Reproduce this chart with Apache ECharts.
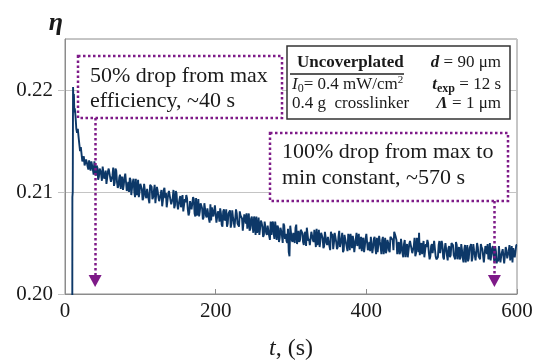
<!DOCTYPE html>
<html>
<head>
<meta charset="utf-8">
<script src="https://cdn.jsdelivr.net/npm/echarts@6/dist/echarts.min.js"></script>
<style>
  html, body { margin: 0; padding: 0; background: #fff; }
  #chart { width: 534px; height: 360px; }
</style>
</head>
<body>
<div id="chart"></div>
<script>
// Diffraction efficiency η versus time t (s)
const xTicks = [0, 200, 400, 600];
const yTicks = [0.20, 0.21, 0.22];

// onset of recording: rise and peak (time, efficiency)
const headTime = [9.7, 9.8, 10.3, 10.7, 11.2, 11.8, 12.4, 13];
const headEta = [0.1990, 0.2095, 0.2100, 0.2203, 0.2190, 0.2196, 0.2178, 0.2182];

// decay readings at even seconds, t = 14 … 600 s
const evenStart = 14;
const evenEta = [
  0.2174, 0.2158, 0.2154, 0.2140, 0.2143, 0.2131, 0.2126, 0.2132, 0.2125, 0.2131,
  0.2121, 0.2130, 0.2117, 0.2124, 0.2126, 0.2112, 0.2123, 0.2117, 0.2125, 0.2113,
  0.2121, 0.2108, 0.2123, 0.2114, 0.2109, 0.2124, 0.2109, 0.2121, 0.2104, 0.2114,
  0.2103, 0.2115, 0.2107, 0.2118, 0.2101, 0.2110, 0.2114, 0.2097, 0.2110, 0.2100,
  0.2113, 0.2099, 0.2095, 0.2108, 0.2103, 0.2094, 0.2109, 0.2094, 0.2103, 0.2089,
  0.2106, 0.2093, 0.2101, 0.2089, 0.2105, 0.2095, 0.2090, 0.2102, 0.2092, 0.2104,
  0.2099, 0.2085, 0.2101, 0.2092, 0.2087, 0.2102, 0.2087, 0.2099, 0.2083, 0.2093,
  0.2085, 0.2097, 0.2081, 0.2090, 0.2094, 0.2077, 0.2091, 0.2083, 0.2095, 0.2079,
  0.2094, 0.2080, 0.2076, 0.2089, 0.2084, 0.2075, 0.2090, 0.2075, 0.2084, 0.2070,
  0.2072, 0.2084, 0.2076, 0.2087, 0.2071, 0.2079, 0.2084, 0.2068, 0.2081, 0.2072,
  0.2083, 0.2069, 0.2078, 0.2065, 0.2082, 0.2071, 0.2066, 0.2079, 0.2068, 0.2081,
  0.2076, 0.2062, 0.2078, 0.2069, 0.2064, 0.2079, 0.2064, 0.2076, 0.2060, 0.2071,
  0.2076, 0.2063, 0.2058, 0.2072, 0.2066, 0.2058, 0.2072, 0.2058, 0.2067, 0.2053,
  0.2058, 0.2071, 0.2054, 0.2064, 0.2067, 0.2051, 0.2065, 0.2057, 0.2069, 0.2054,
  0.2052, 0.2064, 0.2037, 0.2068, 0.2051, 0.2060, 0.2065, 0.2049, 0.2062, 0.2053,
  0.2064, 0.2051, 0.2059, 0.2047, 0.2064, 0.2054, 0.2048, 0.2061, 0.2051, 0.2064,
  0.2064, 0.2051, 0.2046, 0.2060, 0.2055, 0.2047, 0.2062, 0.2048, 0.2056, 0.2043,
  0.2057, 0.2044, 0.2060, 0.2051, 0.2046, 0.2062, 0.2047, 0.2060, 0.2043, 0.2054,
  0.2046, 0.2059, 0.2043, 0.2053, 0.2057, 0.2041, 0.2054, 0.2047, 0.2059, 0.2044,
  0.2042, 0.2055, 0.2047, 0.2059, 0.2043, 0.2051, 0.2056, 0.2040, 0.2054, 0.2045,
  0.2055, 0.2042, 0.2051, 0.2039, 0.2056, 0.2046, 0.2040, 0.2053, 0.2043, 0.2056,
  0.2056, 0.2043, 0.2062, 0.2053, 0.2048, 0.2039, 0.2054, 0.2040, 0.2049, 0.2036,
  0.2049, 0.2036, 0.2052, 0.2044, 0.2039, 0.2055, 0.2040, 0.2052, 0.2060, 0.2047,
  0.2039, 0.2052, 0.2036, 0.2046, 0.2050, 0.2034, 0.2047, 0.2040, 0.2052, 0.2037,
  0.2035, 0.2048, 0.2040, 0.2052, 0.2036, 0.2044, 0.2049, 0.2033, 0.2047, 0.2038,
  0.2051, 0.2038, 0.2034, 0.2048, 0.2043, 0.2034, 0.2049, 0.2035, 0.2044, 0.2031,
  0.2048, 0.2035, 0.2044, 0.2032, 0.2049, 0.2038, 0.2033, 0.2046, 0.2036, 0.2049,
  0.2044, 0.2031, 0.2047, 0.2039, 0.2034, 0.2050, 0.2034, 0.2047, 0.2031, 0.2042,
  0.2034, 0.2047, 0.2031, 0.2041, 0.2045, 0.2029, 0.2043, 0.2036, 0.2048, 0.2033,
  0.2031, 0.2044, 0.2036, 0.2048
];

// decay readings at odd seconds, t = 15 … 599 s
const oddStart = 15;
const oddEta = [
  0.2162, 0.2162, 0.2147, 0.2144, 0.2130, 0.2135, 0.2127, 0.2129, 0.2122, 0.2130,
  0.2130, 0.2122, 0.2130, 0.2116, 0.2124, 0.2115, 0.2121, 0.2111, 0.2124, 0.2116,
  0.2108, 0.2120, 0.2124, 0.2110, 0.2116, 0.2106, 0.2123, 0.2110, 0.2106, 0.2117,
  0.2113, 0.2102, 0.2114, 0.2118, 0.2104, 0.2100, 0.2112, 0.2104, 0.2113, 0.2095,
  0.2097, 0.2112, 0.2100, 0.2107, 0.2092, 0.2108, 0.2096, 0.2103, 0.2093, 0.2107,
  0.2105, 0.2095, 0.2107, 0.2089, 0.2101, 0.2091, 0.2098, 0.2086, 0.2102, 0.2094,
  0.2085, 0.2098, 0.2101, 0.2088, 0.2094, 0.2084, 0.2101, 0.2088, 0.2084, 0.2096,
  0.2092, 0.2081, 0.2093, 0.2097, 0.2083, 0.2080, 0.2092, 0.2084, 0.2093, 0.2076,
  0.2077, 0.2093, 0.2081, 0.2088, 0.2073, 0.2089, 0.2077, 0.2084, 0.2074, 0.2088,
  0.2085, 0.2076, 0.2087, 0.2070, 0.2081, 0.2071, 0.2079, 0.2066, 0.2083, 0.2074,
  0.2066, 0.2079, 0.2082, 0.2069, 0.2075, 0.2065, 0.2083, 0.2069, 0.2066, 0.2077,
  0.2074, 0.2063, 0.2075, 0.2079, 0.2065, 0.2062, 0.2074, 0.2066, 0.2076, 0.2058,
  0.2060, 0.2075, 0.2064, 0.2070, 0.2056, 0.2071, 0.2060, 0.2067, 0.2057, 0.2071,
  0.2069, 0.2059, 0.2071, 0.2053, 0.2065, 0.2055, 0.2062, 0.2050, 0.2067, 0.2059,
  0.2050, 0.2041, 0.2067, 0.2053, 0.2060, 0.2050, 0.2068, 0.2054, 0.2051, 0.2063,
  0.2060, 0.2048, 0.2061, 0.2065, 0.2052, 0.2048, 0.2061, 0.2053, 0.2063, 0.2046,
  0.2048, 0.2063, 0.2052, 0.2059, 0.2045, 0.2061, 0.2050, 0.2056, 0.2047, 0.2061,
  0.2059, 0.2050, 0.2061, 0.2044, 0.2056, 0.2046, 0.2054, 0.2041, 0.2058, 0.2050,
  0.2042, 0.2055, 0.2059, 0.2045, 0.2052, 0.2042, 0.2060, 0.2047, 0.2044, 0.2056,
  0.2053, 0.2041, 0.2054, 0.2058, 0.2045, 0.2042, 0.2055, 0.2046, 0.2056, 0.2039,
  0.2041, 0.2057, 0.2046, 0.2053, 0.2039, 0.2055, 0.2043, 0.2050, 0.2041, 0.2055,
  0.2053, 0.2061, 0.2056, 0.2039, 0.2051, 0.2041, 0.2048, 0.2036, 0.2053, 0.2045,
  0.2036, 0.2049, 0.2053, 0.2040, 0.2047, 0.2037, 0.2055, 0.2041, 0.2038, 0.2050,
  0.2047, 0.2036, 0.2049, 0.2053, 0.2040, 0.2037, 0.2049, 0.2041, 0.2051, 0.2034,
  0.2036, 0.2052, 0.2041, 0.2048, 0.2034, 0.2050, 0.2038, 0.2045, 0.2036, 0.2050,
  0.2048, 0.2039, 0.2051, 0.2034, 0.2046, 0.2036, 0.2043, 0.2031, 0.2048, 0.2040,
  0.2032, 0.2045, 0.2049, 0.2036, 0.2043, 0.2033, 0.2050, 0.2037, 0.2034, 0.2046,
  0.2043, 0.2032, 0.2045, 0.2049, 0.2036, 0.2033, 0.2045, 0.2037, 0.2047, 0.2030,
  0.2032, 0.2048, 0.2037, 0.2044, 0.2030, 0.2046, 0.2035, 0.2042, 0.2033, 0.2047,
  0.2045, 0.2036, 0.2048
];
const sampleStep = 2;

// annotated times (s)
const dropHalfTime = 40;
const dropFullTime = 570;

const serif = '"Liberation Serif", "DejaVu Serif", serif';
const purple = '#7e1a88';
const navy = '#0d3868';
const ink = '#1a1a1a';

// interleave even- and odd-second readings into one time-ordered trace
const trace = headTime.map((t, i) => [t, headEta[i]]);
evenEta.forEach((v, i) => {
  trace.push([evenStart + i * sampleStep, v]);
  if (i < oddEta.length) trace.push([oddStart + i * sampleStep, oddEta[i]]);
});

const chart = echarts.init(document.getElementById('chart'), null, { renderer: 'canvas' });

chart.setOption({
  animation: false,
  backgroundColor: '#fff',
  grid: {
    left: 65, right: 17, top: 39, bottom: 66,
    outerBoundsMode: 'none',
    containLabel: false,
    show: true, borderColor: '#8c8c8c', borderWidth: 1
  },
  xAxis: {
    type: 'value',
    min: xTicks[0], max: xTicks[xTicks.length - 1], interval: 200,
    name: '{i|t}, (s)',
    nameLocation: 'middle',
    nameGap: 43,
    nameTextStyle: {
      fontFamily: serif, fontSize: 24, color: ink,
      rich: { i: { fontFamily: serif, fontSize: 24, fontStyle: 'italic', color: ink } }
    },
    axisLine: { lineStyle: { color: '#8c8c8c', width: 1 } },
    axisTick: { inside: true, length: 5, lineStyle: { color: '#8c8c8c' } },
    axisLabel: { fontFamily: serif, fontSize: 21, color: ink, margin: 7 },
    splitLine: { show: false }
  },
  yAxis: {
    type: 'value',
    min: yTicks[0], max: 0.225, interval: 0.01,
    axisLine: { show: true, lineStyle: { color: '#8c8c8c', width: 1 } },
    axisTick: { show: true, length: 7, lineStyle: { color: '#c4c4c4' } },
    axisLabel: {
      fontFamily: serif, fontSize: 21, color: ink, margin: 12,
      showMaxLabel: false,
      formatter: v => yTicks.some(y => Math.abs(y - v) < 1e-6) ? v.toFixed(2) : ''
    },
    splitLine: { show: true, lineStyle: { color: '#c4c4c4', width: 1 } }
  },
  series: [{
    type: 'line',
    data: trace,
    showSymbol: false,
    sampling: 'none',
    lineStyle: { color: navy, width: 1.9 },
    itemStyle: { color: navy },
    markLine: {
      silent: true,
      symbol: ['none', 'triangle'],
      symbolSize: [13, 12],
      label: { show: false },
      lineStyle: { color: purple, width: 2.5, type: [2.5, 2.5] },
      data: [
        [{ coord: [dropHalfTime, 0.21725] }, { coord: [dropHalfTime, 0.20127] }],
        [{ coord: [dropFullTime, 0.20912] }, { coord: [dropFullTime, 0.20127] }]
      ]
    }
  }],
  graphic: [
    // y-axis title
    {
      type: 'text', x: 56, y: 23, z: 10,
      style: {
        text: 'η', fontFamily: serif, fontSize: 26, fontWeight: 'bold', fontStyle: 'italic',
        fill: ink, align: 'center', verticalAlign: 'middle'
      }
    },
    // first annotation box
    {
      type: 'rect', z: 10,
      shape: { x: 78, y: 56, width: 204, height: 62 },
      style: { fill: '#fff', stroke: purple, lineWidth: 2.5, lineDash: [2.5, 2.5] }
    },
    {
      type: 'text', x: 90, y: 64, z: 11,
      style: {
        text: '50% drop from max\nefficiency, ~40 s',
        fontFamily: serif, fontSize: 22, lineHeight: 25, fill: ink,
        align: 'left', verticalAlign: 'top'
      }
    },
    // second annotation box
    {
      type: 'rect', z: 10,
      shape: { x: 270, y: 133, width: 238, height: 68 },
      style: { fill: '#fff', stroke: purple, lineWidth: 2.5, lineDash: [2.5, 2.5] }
    },
    {
      type: 'text', x: 282, y: 139, z: 11,
      style: {
        text: '100% drop from max to\nmin constant, ~570 s',
        fontFamily: serif, fontSize: 22, lineHeight: 26, fill: ink,
        align: 'left', verticalAlign: 'top'
      }
    },
    // sample parameter box
    {
      type: 'rect', z: 12,
      shape: { x: 287, y: 46, width: 223, height: 73 },
      style: { fill: '#fff', stroke: '#333', lineWidth: 1.5 }
    },
    {
      type: 'text', x: 297, y: 63, z: 13,
      style: {
        text: 'Uncoverplated', fontFamily: serif, fontSize: 17, fontWeight: 'bold',
        fill: ink, align: 'left', verticalAlign: 'middle'
      }
    },
    {
      type: 'line', z: 13,
      shape: { x1: 290, y1: 74, x2: 404, y2: 74 },
      style: { stroke: '#222', lineWidth: 1.3 }
    },
    {
      type: 'text', x: 292, y: 85, z: 13,
      style: {
        text: '{i|I}{sub|0}= 0.4 mW/cm{sup|2}',
        fontFamily: serif, fontSize: 17, fill: ink, lineHeight: 20,
        align: 'left', verticalAlign: 'middle',
        rich: {
          i: { fontFamily: serif, fontSize: 17, fontStyle: 'italic', fill: ink },
          sub: { fontFamily: serif, fontSize: 12, fill: ink, verticalAlign: 'bottom', lineHeight: 14, padding: [6, 0, 0, 0] },
          sup: { fontFamily: serif, fontSize: 11, fill: ink, verticalAlign: 'top', lineHeight: 12, padding: [0, 0, 6, 0] }
        }
      }
    },
    {
      type: 'text', x: 292, y: 104, z: 13,
      style: {
        text: '0.4 g  crosslinker', fontFamily: serif, fontSize: 17, fill: ink,
        align: 'left', verticalAlign: 'middle'
      }
    },
    {
      type: 'text', x: 501, y: 63, z: 13,
      style: {
        text: '{bi|d} = 90 μm', fontFamily: serif, fontSize: 17, fill: ink,
        align: 'right', verticalAlign: 'middle',
        rich: { bi: { fontFamily: serif, fontSize: 17, fontWeight: 'bold', fontStyle: 'italic', fill: ink } }
      }
    },
    {
      type: 'text', x: 501, y: 85, z: 13,
      style: {
        text: '{bi|t}{sub|exp} = 12 s', fontFamily: serif, fontSize: 17, fill: ink, lineHeight: 20,
        align: 'right', verticalAlign: 'middle',
        rich: {
          bi: { fontFamily: serif, fontSize: 17, fontWeight: 'bold', fontStyle: 'italic', fill: ink },
          sub: { fontFamily: serif, fontSize: 12, fontWeight: 'bold', fill: ink, verticalAlign: 'bottom', lineHeight: 14, padding: [6, 0, 0, 0] }
        }
      }
    },
    {
      type: 'text', x: 501, y: 104, z: 13,
      style: {
        text: '{bi|Λ} = 1 μm', fontFamily: serif, fontSize: 17, fill: ink,
        align: 'right', verticalAlign: 'middle',
        rich: { bi: { fontFamily: serif, fontSize: 17, fontWeight: 'bold', fontStyle: 'italic', fill: ink } }
      }
    }
  ]
});
</script>
</body>
</html>
